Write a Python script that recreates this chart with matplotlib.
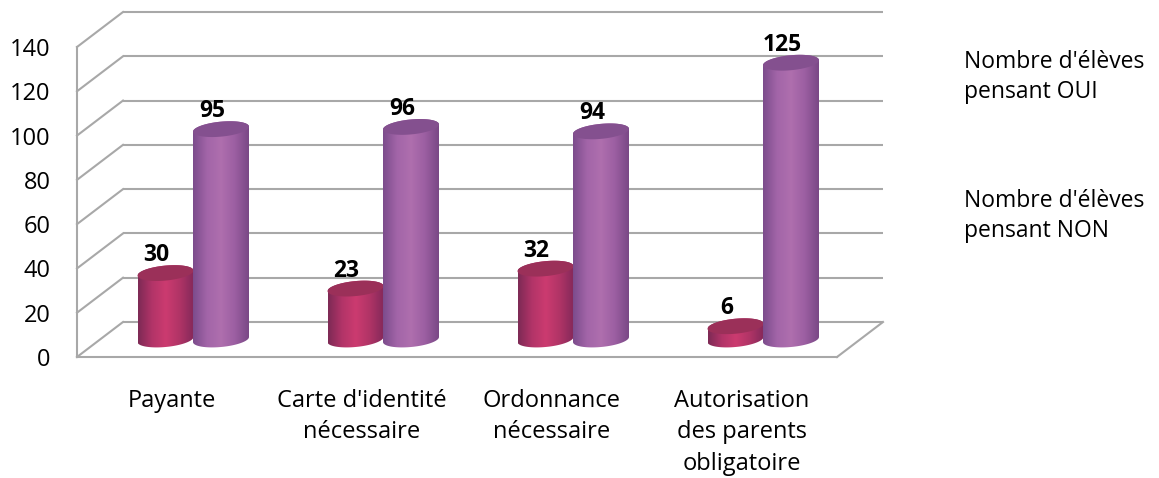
import numpy as np
import matplotlib
matplotlib.use('Agg')
import matplotlib.pyplot as plt
from matplotlib.colors import LinearSegmentedColormap
from matplotlib.patches import PathPatch
from matplotlib.path import Path

plt.rcParams['font.family'] = ['Open Sans', 'DejaVu Sans']

# Data
categories = ["Payante", "Carte d'identité\nnécessaire", "Ordonnance\nnécessaire",
              "Autorisation\ndes parents\nobligatoire"]
oui_values = [30, 23, 32, 6]
non_values = [95, 96, 94, 125]
y_ticks = [0, 20, 40, 60, 80, 100, 120, 140]
legend_labels = ["Nombre d'élèves\npensant OUI", "Nombre d'élèves\npensant NON"]

W, H = 1159, 478
grid_color = '#a8a8a8'

# size of one data unit in pixels
px_x = 190.0
px_y = 310.0 / 140
depth_x = 46 / px_x
depth_y = 35 / px_y
bar_w = 56 / px_x
minor = 7.5 / px_y
slope = 0.09 * px_x / px_y

fig = plt.figure(figsize=(W / 100, H / 100), dpi=100, facecolor='white')
ax = fig.add_axes([77 / W, 1 - 357 / H, 760 / W, 310 / H])


def ellipse_pts(cx, cy, start, stop):
    t = np.linspace(start, stop, 60)
    x = cx + bar_w / 2 * np.cos(t)
    y = cy + minor * np.sin(t) + slope * (x - cx)
    return x, y


def cylinder(cx, value, cmap, top_color, z):
    base = depth_y / 2
    top = base + value
    xb, yb = ellipse_pts(cx, base, np.pi, 2 * np.pi)
    xt, yt = ellipse_pts(cx, top, 0, np.pi)
    verts = np.r_[np.c_[xb, yb], np.c_[xt, yt], [[xb[0], yb[0]]]]
    body = PathPatch(Path(verts), facecolor='none', edgecolor='none', zorder=z)
    ax.add_patch(body)
    grad = np.linspace(0, 1, 128).reshape(1, -1)
    im = ax.imshow(grad, cmap=cmap, aspect='auto', zorder=z,
                   extent=[cx - bar_w / 2, cx + bar_w / 2, base - 10, top + 10])
    im.set_clip_path(body)
    xe, ye = ellipse_pts(cx, top, 0, 2 * np.pi)
    ax.fill(xe, ye, color=top_color, lw=0, zorder=z + 0.5)
    ax.annotate(str(value), (cx, top), xytext=(-9, 18), textcoords='offset pixels',
                ha='center', va='center', fontsize=16.5, fontweight='bold',
                color='black', zorder=10, annotation_clip=False)


red_cmap = LinearSegmentedColormap.from_list(
    'red', ['#7d2a55', '#b23468', '#cc3b70', '#b03466', '#84295a'])
purple_cmap = LinearSegmentedColormap.from_list(
    'purple', ['#7c4c8c', '#a265a8', '#af6fae', '#9c5fa2', '#7a4886'])

# walls and floor
for v in y_ticks:
    ax.plot([depth_x, 4 + depth_x], [v + depth_y] * 2, color=grid_color, lw=1.5,
            clip_on=False, zorder=1, solid_capstyle='butt')
    ax.plot([0, depth_x], [v, v + depth_y], color=grid_color, lw=1.5,
            clip_on=False, zorder=1)
ax.plot([4, 4 + depth_x], [0, depth_y], color=grid_color, lw=1.5, clip_on=False, zorder=1)

# cylinders, red first so that the purple one overlaps it
for i in range(len(categories)):
    centre = i + 0.5 + depth_x / 2
    cylinder(centre - 29.5 / px_x, oui_values[i], red_cmap, '#9b3059', 3)
    cylinder(centre + 26 / px_x, non_values[i], purple_cmap, '#84508f', 4)

ax.set_xlim(0, 4)
ax.set_ylim(0, 140)
ax.set_yticks(y_ticks)
ax.set_xticks(np.arange(len(categories)) + 0.5)
ax.set_xticklabels(categories, linespacing=1.41)
ax.tick_params(axis='y', length=0, pad=19, labelsize=17, labelcolor='black')
ax.tick_params(axis='x', length=0, pad=23, labelsize=17, labelcolor='black')
for side in ['top', 'right']:
    ax.spines[side].set_visible(False)
for side in ['left', 'bottom']:
    ax.spines[side].set_color(grid_color)
    ax.spines[side].set_linewidth(1.5)
ax.patch.set_alpha(0)

fig.text(964 / W, 1 - 77 / H, legend_labels[0], ha='left', va='center',
         fontsize=16.5, linespacing=1.37)
fig.text(964 / W, 1 - 216 / H, legend_labels[1], ha='left', va='center',
         fontsize=16.5, linespacing=1.37)

fig.savefig('out.png', dpi=100)
